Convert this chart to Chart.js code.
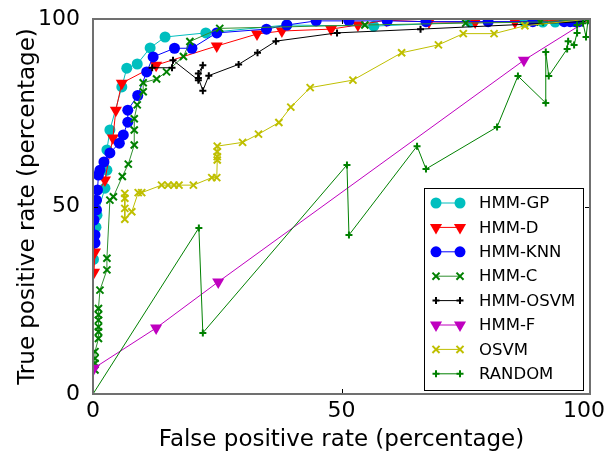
<!DOCTYPE html>
<html>
<head>
<meta charset="utf-8">
<script src="https://cdn.jsdelivr.net/npm/chart.js@4.4.0/dist/chart.umd.min.js"></script>
<style>
html, body { margin: 0; padding: 0; background: #fff; }
</style>
</head>
<body>
<canvas id="roc" width="608" height="455"></canvas>
<script>
// series values, percentages (x = false positive rate, y = true positive rate)
const names = ['HMM-GP', 'HMM-D', 'HMM-KNN', 'HMM-C', 'HMM-OSVM', 'HMM-F', 'OSVM', 'RANDOM'];
const xTicks = [0, 50, 100];
const yTicks = [0, 50, 100];

const gpX = [0.1, 0.6, 0.8, 2.4, 2.8, 2.8, 3.4, 5.8, 6.8, 8.9, 11.5, 14.5, 22.7, 39, 56.5, 75.9, 86.9, 90.5, 93, 100];
const gpY = [35.9, 44.5, 47.7, 54.9, 59.7, 65.1, 70.4, 81.9, 86.9, 88, 92.3, 95.2, 96.3, 98.4, 98.1, 99.2, 99.2, 99.2, 99.2, 100];

const dX = [0.2, 0.4, 0.3, 2.4, 4.0, 4.6, 5.8, 12.7, 24.9, 33, 38, 47.9, 53.3, 59, 67.6, 76.9, 84.9, 100];
const dY = [32.5, 37.9, 51.5, 57.1, 68.3, 75.7, 82.9, 87.7, 92.8, 96, 96.8, 97.3, 98.4, 99.7, 99.2, 99.2, 99.2, 100];

const knnX = [0.4, 0.4, 0.2, 0.7, 0.7, 0.9, 1.1, 1.4, 2.2, 3.4, 5.3, 6.1, 7.0, 7.0, 9.0, 10.8, 12.1, 16.4, 19.9, 24.9, 34.9, 39, 44.9, 51.5, 59.2, 67, 79.5, 88.5, 94.8, 96, 97, 97.8];
const knnY = [40.3, 42.4, 46.4, 49.1, 51.7, 54.4, 58.4, 59.7, 61.9, 64.3, 66.9, 69.1, 72.5, 75.7, 79.6, 85.9, 89.9, 92.2, 92.2, 96.3, 97.3, 98.4, 99.5, 99.5, 99.5, 99.3, 99.3, 99.3, 99.3, 99.3, 99.3, 99.3];

const cX = [0.4, 0.4, 0.4, 0.4, 1.1, 1.1, 1.1, 1.1, 1.1, 1.1, 1.4, 2.8, 2.8, 3.4, 4.1, 5.9, 7.1, 8.3, 8.3, 8.3, 8.9, 10.1, 10.1, 12.8, 14.8, 18.2, 19.5, 25.5, 54.7, 75, 90, 100];
const cY = [6.4, 8.2, 9.5, 11.3, 14.8, 16.6, 17.9, 19.7, 21.1, 22.8, 27.7, 33.1, 36.2, 51.7, 52.6, 58, 61.3, 66.4, 70.4, 73.4, 77.1, 80.6, 83, 84, 85.9, 90, 94, 97.5, 98.4, 98.9, 99.2, 100];

const hoX = [11.9, 15.9, 16.1, 21.2, 22.1, 21.2, 21.2, 22.1, 23.3, 29.3, 33.1, 36.8, 49.1, 65.9, 100];
const hoY = [87, 87, 89, 83.7, 87.7, 85.5, 84.3, 80.9, 84.9, 87.9, 91, 94.1, 96.3, 97.3, 99.4];

const fX = [0.2, 12.7, 25.2, 86.7, 100];
const fY = [6.9, 17.6, 29.9, 89, 100];

const osX = [6.4, 6.4, 6.4, 6.4, 7.8, 9.1, 9.8, 13.8, 15.1, 16.3, 17.3, 20.2, 23.9, 24.9, 25, 25, 25, 25, 30.1, 33.3, 37.4, 39.8, 43.7, 52.3, 62.1, 69.5, 74.5, 80.7, 86.9, 100];
const osY = [53.5, 52.2, 49.5, 46.6, 48.6, 53.7, 53.7, 55.7, 55.7, 55.7, 55.7, 55.7, 57.7, 57.7, 62.4, 63.3, 64.6, 66.1, 67.1, 69.3, 72.4, 76.5, 81.7, 83.7, 91, 93.1, 96.1, 96.1, 98.2, 100];

const rndX = [0, 21.3, 22.1, 51.1, 51.5, 65.2, 67.0, 81.3, 85.5, 91.1, 91.1, 91.7, 95.4, 95.6, 96.8, 97.4, 97.4, 98.6, 99.2, 99.6, 100];
const rndY = [0, 44.3, 16.3, 61.1, 42.4, 66.1, 60, 71.2, 84.8, 77.6, 91.2, 84.8, 92, 94.1, 93.1, 96.3, 98.4, 98.9, 95.2, 99.7, 100];

const seriesX = [gpX, dX, knnX, cX, hoX, fX, osX, rndX];
const seriesY = [gpY, dY, knnY, cY, hoY, fY, osY, rndY];

const FONT = "'DejaVu Sans', sans-serif";
const styles = [
  {color: '#00bfbf', line: '#00bfbf', shape: 'circle', r: 5.5, w: 1},
  {color: '#ff0000', line: '#ff0000', shape: 'triangle', r: 7, w: 1},
  {color: '#0000ff', line: '#0000ff', shape: 'circle', r: 5.5, w: 1},
  {color: '#008000', line: '#2f8f2f', shape: 'crossRot', r: 5, w: 2},
  {color: '#000000', line: '#000000', shape: 'cross', r: 3.5, w: 2},
  {color: '#bf00bf', line: '#bf00bf', shape: 'triangle', r: 7, w: 1},
  {color: '#bfbf00', line: '#bfbf00', shape: 'crossRot', r: 5, w: 2},
  {color: '#008000', line: '#008000', shape: 'cross', r: 3.5, w: 2}
];

const datasets = names.map((n, i) => {
  const s = styles[i];
  const filled = s.shape === 'circle' || s.shape === 'triangle';
  return {
    label: n,
    data: seriesX[i].map((x, j) => ({x: x, y: seriesY[i][j]})),
    showLine: true,
    borderColor: s.line,
    borderWidth: 1,
    pointStyle: s.shape,
    pointRotation: s.shape === 'triangle' ? 180 : 0,
    pointRadius: s.r,
    pointHoverRadius: s.r,
    pointBackgroundColor: s.color,
    pointBorderColor: s.color,
    pointBorderWidth: filled ? 0 : s.w,
    order: names.length - i,
    clip: 0
  };
});

function drawMarker(ctx, s, x, y) {
  ctx.save();
  ctx.fillStyle = s.color;
  ctx.strokeStyle = s.color;
  ctx.lineWidth = s.w;
  ctx.beginPath();
  if (s.shape === 'circle') {
    ctx.arc(x, y, s.r, 0, Math.PI * 2);
    ctx.fill();
  } else if (s.shape === 'triangle') {
    const r = s.r;
    ctx.moveTo(x, y + r);
    ctx.lineTo(x - r * 0.866, y - r * 0.5);
    ctx.lineTo(x + r * 0.866, y - r * 0.5);
    ctx.closePath();
    ctx.fill();
  } else if (s.shape === 'crossRot') {
    const d = s.r * 0.707;
    ctx.moveTo(x - d, y - d); ctx.lineTo(x + d, y + d);
    ctx.moveTo(x - d, y + d); ctx.lineTo(x + d, y - d);
    ctx.stroke();
  } else {
    ctx.moveTo(x - s.r, y); ctx.lineTo(x + s.r, y);
    ctx.moveTo(x, y - s.r); ctx.lineTo(x, y + s.r);
    ctx.stroke();
  }
  ctx.restore();
}

const framePlugin = {
  id: 'frame',
  afterDatasetsDraw(chart) {
    const {ctx, chartArea: a, scales} = chart;
    ctx.save();
    ctx.strokeStyle = '#000';
    ctx.lineWidth = 1;
    ctx.beginPath();
    xTicks.forEach(v => {
      const px = Math.round(scales.x.getPixelForValue(v)) + 0.5;
      ctx.moveTo(px, a.bottom); ctx.lineTo(px, a.bottom - 5);
      ctx.moveTo(px, a.top); ctx.lineTo(px, a.top + 5);
    });
    yTicks.forEach(v => {
      const py = Math.round(scales.y.getPixelForValue(v)) + 0.5;
      ctx.moveTo(a.left, py); ctx.lineTo(a.left + 5, py);
      ctx.moveTo(a.right, py); ctx.lineTo(a.right - 5, py);
    });
    ctx.stroke();
    ctx.strokeStyle = '#707070';
    ctx.lineWidth = 2;
    ctx.strokeRect(a.left, a.top, a.right - a.left, a.bottom - a.top);

    // x tick labels, kept inside the canvas
    ctx.fillStyle = '#000';
    ctx.font = '22px ' + FONT;
    ctx.textAlign = 'center';
    ctx.textBaseline = 'middle';
    xTicks.forEach(v => {
      const label = String(v);
      const w = ctx.measureText(label).width;
      const px = Math.min(scales.x.getPixelForValue(v), chart.width - 3 - w / 2);
      ctx.fillText(label, px, a.bottom + 17);
    });
    ctx.restore();
  },
  afterDraw(chart) {
    const {ctx, chartArea: a} = chart;
    const bw = 159, bh = 202;
    const bx = a.right - 7 - bw, by = a.bottom - 4 - bh;
    ctx.save();
    ctx.fillStyle = '#fff';
    ctx.fillRect(bx, by, bw, bh);
    ctx.strokeStyle = '#000';
    ctx.lineWidth = 1;
    ctx.strokeRect(bx + 0.5, by + 0.5, bw, bh);
    ctx.font = '16.5px ' + FONT;
    ctx.textBaseline = 'middle';
    names.forEach((n, i) => {
      const s = styles[i];
      const y = by + 15 + i * 24.4;
      ctx.strokeStyle = s.line;
      ctx.lineWidth = 1;
      ctx.beginPath();
      ctx.moveTo(bx + 12, y); ctx.lineTo(bx + 36, y);
      ctx.stroke();
      drawMarker(ctx, s, bx + 12, y);
      drawMarker(ctx, s, bx + 36, y);
      ctx.fillStyle = '#000';
      ctx.fillText(n, bx + 55, y + 1);
    });
    ctx.restore();
  }
};

new Chart(document.getElementById('roc').getContext('2d'), {
  type: 'scatter',
  data: {datasets: datasets},
  options: {
    responsive: false,
    animation: false,
    events: [],
    layout: {autoPadding: false, padding: {top: 19, right: 18, left: 0, bottom: 0}},
    plugins: {legend: {display: false}, tooltip: {enabled: false}},
    scales: {
      x: {
        type: 'linear', min: 0, max: 100,
        afterBuildTicks: s => { s.ticks = xTicks.map(v => ({value: v})); },
        afterFit: s => { s.height = 61; s.paddingLeft = 0; s.paddingRight = 0; },
        grid: {display: false},
        border: {display: false},
        ticks: {display: false},
        title: {display: true, text: 'False positive rate (percentage)', color: '#000',
                font: {family: FONT, size: 23}, padding: {top: 0, bottom: 1}}
      },
      y: {
        type: 'linear', min: 0, max: 100,
        afterBuildTicks: s => { s.ticks = yTicks.map(v => ({value: v})); },
        afterFit: s => { s.width = 93; s.paddingTop = 0; s.paddingBottom = 0; },
        grid: {display: false},
        border: {display: false},
        ticks: {color: '#000', font: {family: FONT, size: 22}, padding: 5},
        title: {display: true, text: 'True positive rate (percentage)', color: '#000',
                font: {family: FONT, size: 23}, padding: {top: 14, bottom: 0}}
      }
    }
  },
  plugins: [framePlugin]
});
</script>
</body>
</html>
